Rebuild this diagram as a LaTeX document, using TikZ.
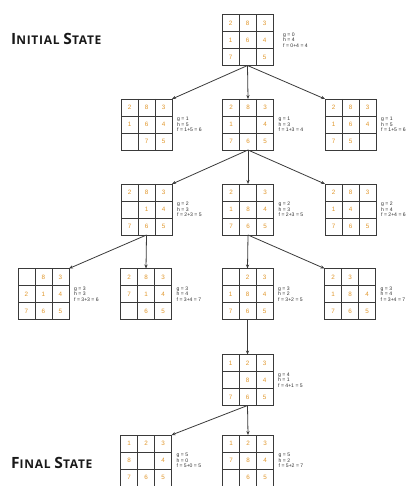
\documentclass[tikz,border=0pt]{standalone}
\usepackage{fontspec}
\setmainfont{Liberation Sans}
\newfontfamily\titlefont[LetterSpace=6]{Open Sans}
\usetikzlibrary{arrows.meta,positioning}
\definecolor{numorange}{HTML}{E0962A}
\definecolor{gridgray}{HTML}{3A3A3A}
\definecolor{txtgray}{HTML}{2E2E2E}
\tikzset{
  boardbox/.style={draw=gridgray, line width=0.9pt, minimum width=51pt, minimum height=51pt, inner sep=0pt, outer sep=0pt},
  gridline/.style={draw=gridgray, line width=0.9pt},
  cellnum/.style={text=numorange, font=\fontsize{6.3}{7}\selectfont, inner sep=0pt},
  lbl/.style={text=txtgray, font=\fontsize{5.1}{5.5}\selectfont, align=left, inner sep=0pt, anchor=west},
  conn/.style={draw=gridgray, line width=0.8pt, -{Stealth[length=4pt,width=3.2pt]}},
  statetitle/.style={anchor=west, inner sep=0pt, text=black!90, font=\titlefont\bfseries},
}
\newcommand\board[6][5]{% gap, name, x, y, entries, label
  \node[boardbox] (#2) at (#3,#4) {};
  \begin{scope}[shift={(#2.north west)}]
    \draw[gridline] (17,0) -- (17,51) (34,0) -- (34,51) (0,17) -- (51,17) (0,34) -- (51,34);
    \foreach \v [count=\i from 0] in {#5} {
      \pgfmathtruncatemacro\r{floor(\i/3)}
      \pgfmathtruncatemacro\c{\i-3*\r}
      \node[cellnum] (#2-\i) at (8.5+17*\c, 8.5+17*\r) {\v};
    }
  \end{scope}
  \node[lbl] (#2-info) at ([xshift=#1pt]#2.east) {#6};
}
\begin{document}
\begin{tikzpicture}[x=1pt,y=-1pt]
\useasboundingbox (0,0) rectangle (418,486);
% titles
\node[statetitle] (initial) at (11,39) {\fontsize{15.5}{15}\selectfont I\fontsize{12}{12}\selectfont NITIAL\ \fontsize{15.5}{15}\selectfont S\fontsize{12}{12}\selectfont TATE};
\node[statetitle] (final) at (11,463) {\fontsize{15.5}{15}\selectfont F\fontsize{12}{12}\selectfont INAL\ \fontsize{15.5}{15}\selectfont S\fontsize{12}{12}\selectfont TATE};
% boards
\board[10]{root}{247.5}{40}{2,8,3,1,6,4,7,{},5}{g = 0\\h = 4\\f = 0+4 = 4}
\board{a1}{146.5}{124.5}{2,8,3,1,6,4,{},7,5}{g = 1\\h = 5\\f = 1+5 = 6}
\board{b1}{248}{124.5}{2,8,3,1,{},4,7,6,5}{g = 1\\h = 3\\f = 1+3 = 4}
\board{c1}{350.5}{124.5}{2,8,3,1,6,4,7,5,{}}{g = 1\\h = 5\\f = 1+5 = 6}
\board{a2}{146.5}{209.5}{2,8,3,{},1,4,7,6,5}{g = 2\\h = 3\\f = 2+3 = 5}
\board{b2}{248}{209.5}{2,{},3,1,8,4,7,6,5}{g = 2\\h = 3\\f = 2+3 = 5}
\board{c2}{350.5}{209.5}{2,8,3,1,4,{},7,6,5}{g = 2\\h = 4\\f = 2+4 = 6}
\board{a3}{43.5}{294}{{},8,3,2,1,4,7,6,5}{g = 3\\h = 3\\f = 3+3 = 6}
\board{b3}{146}{294}{2,8,3,7,1,4,{},6,5}{g = 3\\h = 4\\f = 3+4 = 7}
\board{c3}{247.5}{294}{{},2,3,1,8,4,7,6,5}{g = 3\\h = 2\\f = 3+2 = 5}
\board{d3}{350}{294}{2,3,{},1,8,4,7,6,5}{g = 3\\h = 4\\f = 3+4 = 7}
\board{e4}{247.5}{380}{1,2,3,{},8,4,7,6,5}{g = 4\\h = 1\\f = 4+1 = 5}
\board{a5}{146}{460.5}{1,2,3,8,{},4,7,6,5}{g = 5\\h = 0\\f = 5+0 = 5}
\board{b5}{248}{460.5}{1,2,3,7,8,4,{},6,5}{g = 5\\h = 2\\f = 5+2 = 7}
% connectors
\draw[conn] (root.south) -- (a1.north east);
\draw[conn] (root.south) -- (b1.north);
\draw[conn] (root.south) -- (c1.north west);
\draw[conn] (b1.south) -- (a2.north east);
\draw[conn] (b1.south) -- (b2.north);
\draw[conn] (b1.south) -- (c2.north west);
\draw[conn] (a2.south) -- (a3.north east);
\draw[conn] (a2.south) -- (b3.north);
\draw[conn] (b2.south) -- (c3.north);
\draw[conn] (b2.south) -- (d3.north west);
\draw[conn] (c3.south) -- (e4.north);
\draw[conn] (e4.south) -- (a5.north east);
\draw[conn] (e4.south) -- (b5.north);
\end{tikzpicture}
\end{document}
